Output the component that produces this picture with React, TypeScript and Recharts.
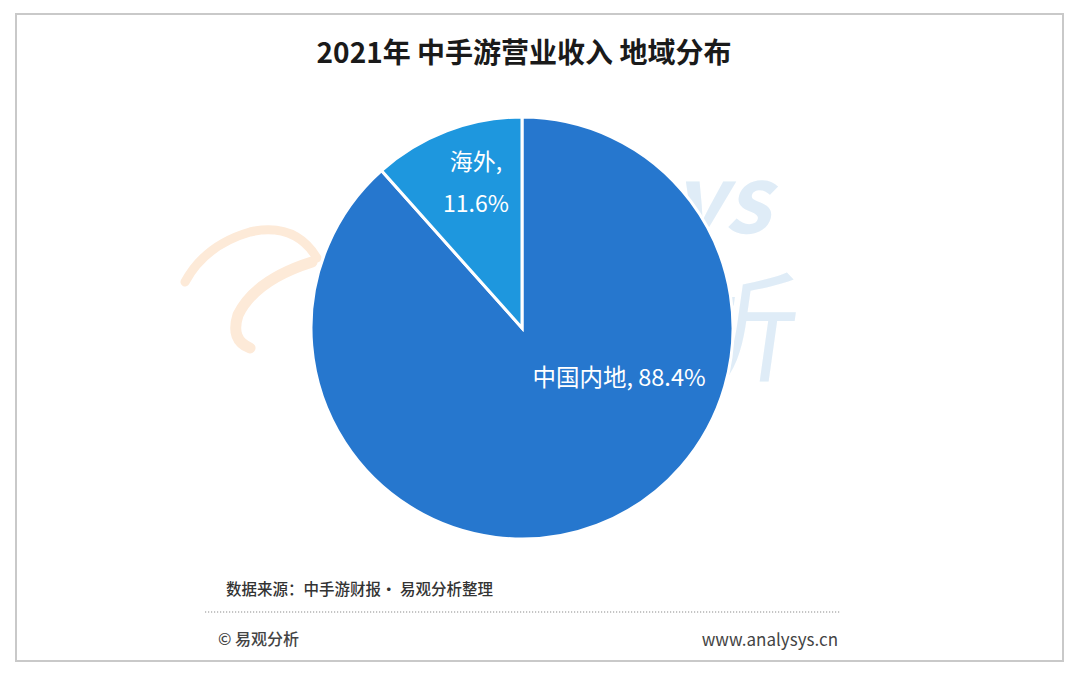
import React from "react";
import { PieChart, Pie, Cell } from "recharts";

const categories = ["中国内地", "海外"];
const shares = [88.4, 11.6];
const colors = ["#2677CE", "#1E97DE"];
const title = "2021年 中手游营业收入 地域分布";
const sourceText = "数据来源：中手游财报· 易观分析整理";
const copyrightText = "© 易观分析";
const siteText = "www.analysys.cn";

const data = categories.map((name, i) => ({ name, value: shares[i] }));

// label placement relative to the pie (angle in degrees, radius as fraction of outer radius)
const labelPlacement: Record<string, { angle: number; r: number; twoLines: boolean }> = {
  中国内地: { angle: -26.3, r: 0.513, twoLines: false },
  海外: { angle: 107.4, r: 0.73, twoLines: true },
};

const FONT = '"Noto Sans CJK SC", "Noto Sans", sans-serif';
const RAD = Math.PI / 180;

const renderLabel = (props: any) => {
  const { cx, cy, outerRadius, name, value } = props;
  const p = labelPlacement[name];
  const x = cx + Math.cos(p.angle * RAD) * outerRadius * p.r;
  const y = cy - Math.sin(p.angle * RAD) * outerRadius * p.r;
  const pct = `${Number(value).toFixed(1)}%`;
  if (p.twoLines) {
    return (
      <g>
        <text x={x} y={y - 21} fill="#fff" fontSize={23} fontFamily={FONT} textAnchor="middle" dominantBaseline="central">
          {`${name},`}
        </text>
        <text x={x} y={y + 21} fill="#fff" fontSize={23} fontFamily={FONT} textAnchor="middle" dominantBaseline="central">
          {pct}
        </text>
      </g>
    );
  }
  return (
    <text x={x} y={y} fill="#fff" fontSize={23.5} fontFamily={FONT} textAnchor="middle" dominantBaseline="central">
      {`${name}, ${pct}`}
    </text>
  );
};

export default function App() {
  return (
    <div style={{ position: "fixed", left: 0, top: 0, width: 1080, height: 678, background: "#fff", overflow: "hidden" }}>
      <svg width={1080} height={678} style={{ position: "absolute", left: 0, top: 0 }}>
        <rect x={16} y={14} width={1047} height={647} fill="#fff" stroke="#c9c9c9" strokeWidth={2} />
        {/* watermark (only the parts that peek out from behind the pie) */}
        <g opacity={0.9}>
          <path d="M185 282 Q 205 245 250 232 Q 295 222 317 258" fill="none" stroke="#fde8d4" strokeWidth={9} strokeLinecap="round" />
          <path d="M312 262 Q 255 280 238 315 Q 230 340 250 348" fill="none" stroke="#fde8d4" strokeWidth={11} strokeLinecap="round" />
          <text x={770} y={233} textAnchor="end" fontSize={92} fontWeight={700} fontStyle="italic" fontFamily={FONT} fill="#dcebf7">ys</text>
          <text x={795} y={372} textAnchor="end" fontSize={120} fontFamily={FONT} fill="#dcebf7" transform="skewX(-8) translate(50,0)">析</text>
        </g>
        <text x={524} y={51} textAnchor="middle" dominantBaseline="central" fontSize={28} fontWeight={700} fontFamily={FONT} fill="#1a1a1a">{title}</text>
        <text x={226} y={588} dominantBaseline="central" fontSize={15.5} fontWeight={500} fontFamily={FONT} fill="#333">{sourceText}</text>
        <line x1={205} y1={612} x2={840} y2={612} stroke="#8c8c8c" strokeWidth={1.2} strokeDasharray="1.2 1.8" />
        <text x={218} y={638} dominantBaseline="central" fontSize={16} fontWeight={500} fontFamily={FONT} fill="#444">{copyrightText}</text>
        <text x={838} y={638} textAnchor="end" dominantBaseline="central" fontSize={17} fontFamily={FONT} fill="#444">{siteText}</text>
      </svg>
      <div style={{ position: "absolute", left: 0, top: 0 }}>
        <PieChart width={1080} height={678} margin={{ top: 0, right: 0, bottom: 0, left: 0 }}>
          <Pie
            data={data}
            dataKey="value"
            nameKey="name"
            cx={522}
            cy={328}
            outerRadius={211}
            startAngle={90}
            endAngle={-270}
            stroke="#fff"
            strokeWidth={3}
            label={renderLabel}
            labelLine={false}
            isAnimationActive={false}
          >
            {data.map((d, i) => (
              <Cell key={d.name} fill={colors[i]} />
            ))}
          </Pie>
        </PieChart>
      </div>
    </div>
  );
}
